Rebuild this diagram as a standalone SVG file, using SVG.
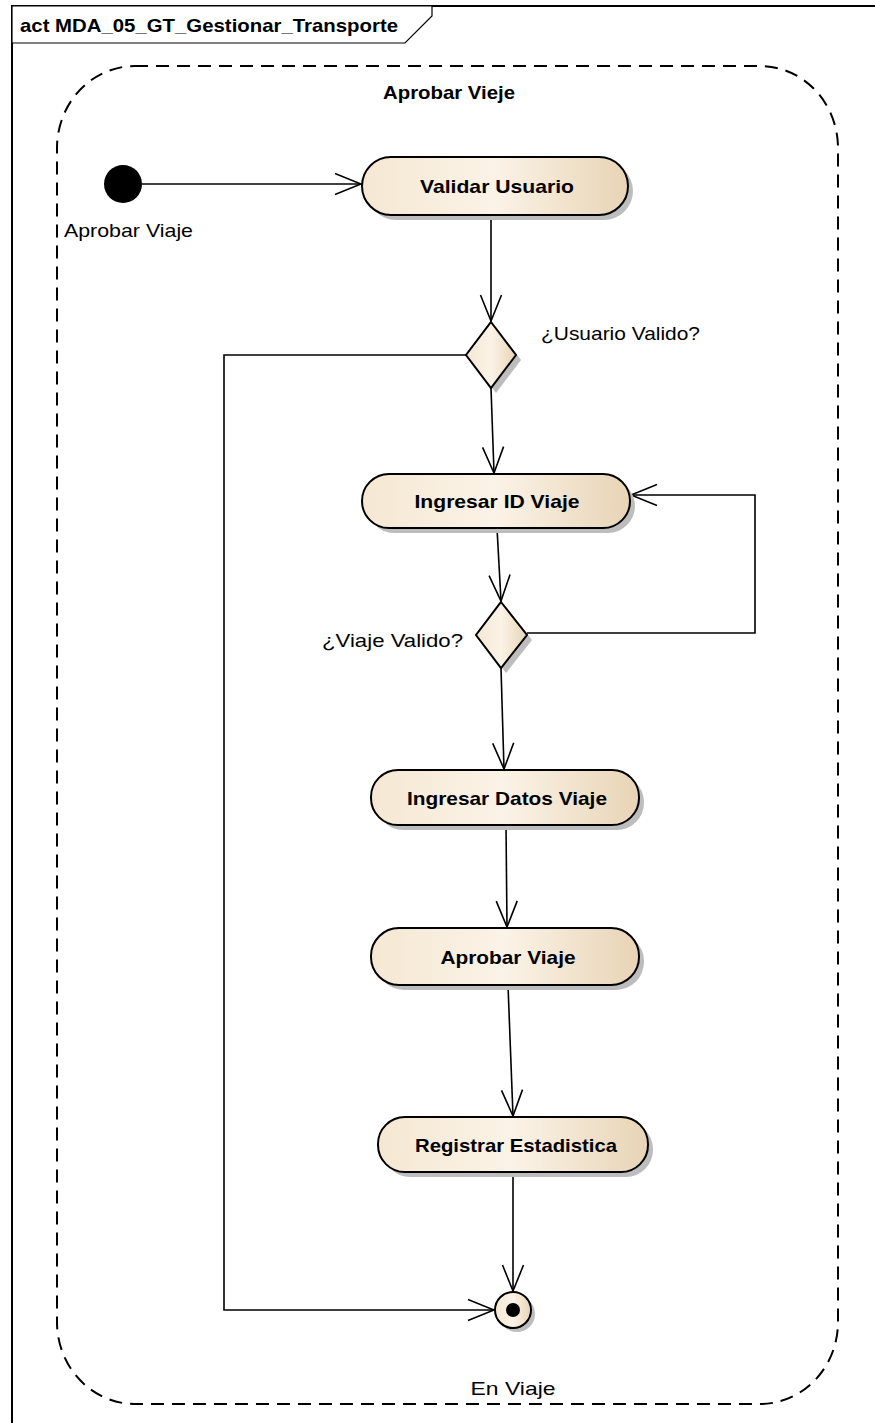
<svg xmlns="http://www.w3.org/2000/svg" width="875" height="1423" viewBox="0 0 875 1423">
<defs>
<linearGradient id="g" x1="0" y1="0" x2="1" y2="0">
<stop offset="0" stop-color="#F5E8D3"/>
<stop offset="0.5" stop-color="#FBF3E7"/>
<stop offset="1" stop-color="#E8D4B6"/>
</linearGradient>
<marker id="arr" markerUnits="userSpaceOnUse" markerWidth="30" markerHeight="26" refX="26" refY="12" orient="auto" viewBox="-2 -1 30 26">
<path d="M0,1.5 L26,12 L0,22.5" fill="none" stroke="#000" stroke-width="1.6"/>
</marker>
</defs>
<style>
.frame{fill:none;stroke:#000;stroke-width:2}
.tab{fill:#fff;stroke:#000;stroke-width:1.2}
.part{fill:none;stroke:#000;stroke-width:2;stroke-dasharray:13 8}
.act{fill:url(#g);stroke:#000;stroke-width:2}
.sh{fill:#BDBDBD;stroke:none}
.conn{fill:none;stroke:#000;stroke-width:1.6;marker-end:url(#arr)}
.b{font-family:"Liberation Sans",Arial,sans-serif;font-weight:bold;font-size:19px;fill:#000}
.r{font-family:"Liberation Sans",Arial,sans-serif;font-size:19px;fill:#000}
</style>
<rect width="875" height="1423" fill="#fff"/>
<g id="frame">
<rect class="frame" x="12" y="6" width="870" height="1430"/>
<polygon class="tab" points="12,6 432,6 432,16 405,43 12,43"/>
<text class="b" x="20" y="32" textLength="378" lengthAdjust="spacingAndGlyphs">act MDA_05_GT_Gestionar_Transporte</text>
</g>
<g id="partition">
<rect class="part" x="57" y="66" width="781" height="1338" rx="78" ry="82"/>
<text class="b" x="449" y="99" text-anchor="middle" textLength="132" lengthAdjust="spacingAndGlyphs">Aprobar Vieje</text>
</g>
<g id="connectors">
<path class="conn" d="M142,184 L361,184"/>
<path class="conn" d="M491,215 L491,321"/>
<path class="conn" d="M466,355 L224,355 L224,1310 L494,1310"/>
<path class="conn" d="M491,388 L494,473"/>
<path class="conn" d="M497,528 L501,601"/>
<path class="conn" d="M527,633 L755,633 L755,495 L631,495"/>
<path class="conn" d="M501,668 L504,769"/>
<path class="conn" d="M506,825 L507,927"/>
<path class="conn" d="M508,985 L513,1116"/>
<path class="conn" d="M513,1172 L513,1291"/>
</g>
<g id="initial">
<circle cx="123" cy="184" r="19" fill="#000"/>
<text class="r" x="64" y="237" textLength="129" lengthAdjust="spacingAndGlyphs">Aprobar Viaje</text>
</g>
<g id="validar">
<rect class="sh" x="367" y="162" width="266" height="58" rx="29"/>
<rect class="act" x="362" y="157" width="266" height="58" rx="29"/>
<text class="b" x="497" y="193" text-anchor="middle" textLength="154" lengthAdjust="spacingAndGlyphs">Validar Usuario</text>
</g>
<g id="dec1">
<polygon class="sh" points="496,327 521,360 496,393 471,360"/>
<polygon class="act" points="491,322 516,355 491,388 466,355"/>
<text class="r" x="541" y="340" textLength="159" lengthAdjust="spacingAndGlyphs">¿Usuario Valido?</text>
</g>
<g id="ingresarId">
<rect class="sh" x="367" y="479" width="268" height="54" rx="27"/>
<rect class="act" x="362" y="474" width="268" height="54" rx="27"/>
<text class="b" x="497" y="508" text-anchor="middle" textLength="165" lengthAdjust="spacingAndGlyphs">Ingresar ID Viaje</text>
</g>
<g id="dec2">
<polygon class="sh" points="506,607 532,640 506,673 481,640"/>
<polygon class="act" points="501,602 527,635 501,668 476,635"/>
<text class="r" x="463" y="647" text-anchor="end" textLength="141" lengthAdjust="spacingAndGlyphs">¿Viaje Valido?</text>
</g>
<g id="ingresarDatos">
<rect class="sh" x="376" y="775" width="268" height="55" rx="27"/>
<rect class="act" x="371" y="770" width="268" height="55" rx="27"/>
<text class="b" x="507" y="805" text-anchor="middle" textLength="200" lengthAdjust="spacingAndGlyphs">Ingresar Datos Viaje</text>
</g>
<g id="aprobar">
<rect class="sh" x="376" y="933" width="268" height="57" rx="28"/>
<rect class="act" x="371" y="928" width="268" height="57" rx="28"/>
<text class="b" x="508" y="964" text-anchor="middle" textLength="135" lengthAdjust="spacingAndGlyphs">Aprobar Viaje</text>
</g>
<g id="registrar">
<rect class="sh" x="383" y="1122" width="270" height="55" rx="27"/>
<rect class="act" x="378" y="1117" width="270" height="55" rx="27"/>
<text class="b" x="516" y="1152" text-anchor="middle" textLength="202" lengthAdjust="spacingAndGlyphs">Registrar Estadistica</text>
</g>
<g id="final">
<circle class="sh" cx="517" cy="1314" r="18"/>
<circle class="act" cx="513" cy="1310" r="18"/>
<circle cx="513" cy="1310" r="7" fill="#000"/>
<text class="r" x="513" y="1395" text-anchor="middle" textLength="85" lengthAdjust="spacingAndGlyphs">En Viaje</text>
</g>
</svg>
